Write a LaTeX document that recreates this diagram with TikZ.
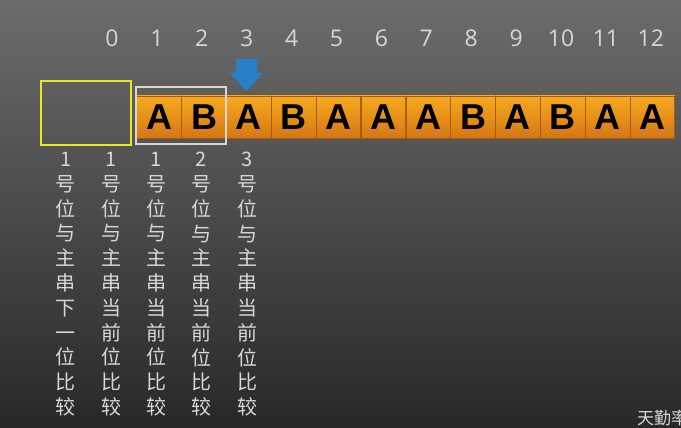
\documentclass[tikz,border=0pt]{standalone}
\usepackage{fontspec}
\setmainfont{Liberation Sans}
\newfontfamily\cjk{Noto Sans CJK SC}
\newfontfamily\numfont{Open Sans}
\definecolor{bgtop}{RGB}{108,108,108}
\definecolor{bgbot}{RGB}{40,40,40}
\definecolor{celltop}{RGB}{246,170,30}
\definecolor{cellbot}{RGB}{214,118,20}
\definecolor{cellline}{RGB}{170,90,10}
\definecolor{pale}{RGB}{215,215,215}
\definecolor{marky}{RGB}{232,232,30}
\definecolor{arrowblue}{RGB}{40,128,200}
\tikzset{
  cell/.style={draw=cellline, line width=0.8pt, top color=celltop, bottom color=cellbot,
    minimum width=44.6pt, minimum height=42pt, inner sep=0pt,
    font=\fontsize{36}{36}\selectfont\bfseries},
  idx/.style={text=pale, font=\numfont\fontsize{23}{23}\selectfont},
  note/.style={anchor=north, text=pale, align=center, inner sep=0pt,
    font=\cjk\fontsize{20}{24.8}\selectfont}
}
\begin{document}
\begin{tikzpicture}[x=1pt,y=-1pt]
\useasboundingbox (0,0) rectangle (681,428);
% fond
\shade[top color=bgtop, bottom color=bgbot] (0,0) rectangle (681,428);

% indices
\foreach \i in {0,...,12}
  \node[idx] (n\i) at ({112+44.9*\i},38) {\i};

% cases du texte
\foreach \i/\ch in {1/A,2/B,3/A,4/B,5/A,6/A,7/A,8/B,9/A,10/B,11/A,12/A}
  \node[cell] (c\i) at ({114.3+44.85*\i},117) {\ch};

% cadres
\draw[marky, line width=2.4pt] (41,81) rectangle (131,145);
\draw[pale, line width=2pt] (136,87) rectangle (226,144);

% fleche
\fill[arrowblue] (236,59) -- (257,59) -- (257,73) -- (263,73) -- (246.5,91)
  -- (230,73) -- (236,73) -- cycle;

% commentaires
\node[note] (col1) at (66,152) {1\\号\\位\\与\\主\\串\\下\\一\\位\\比\\较};
\node[note] (col2) at (111,152) {1\\号\\位\\与\\主\\串\\当\\前\\位\\比\\较};
\node[note] (col3) at (156,152) {1\\号\\位\\与\\主\\串\\当\\前\\位\\比\\较};
\node[note] (col4) at (201,152) {2\\号\\位\\与\\主\\串\\当\\前\\位\\比\\较};
\node[note] (col5) at (247,152) {3\\号\\位\\与\\主\\串\\当\\前\\位\\比\\较};

% filigrane
\node[anchor=west, text=pale, font=\cjk\fontsize{17}{17}\selectfont, inner sep=0pt]
  (mark) at (637,418) {天勤率};
\end{tikzpicture}
\end{document}
